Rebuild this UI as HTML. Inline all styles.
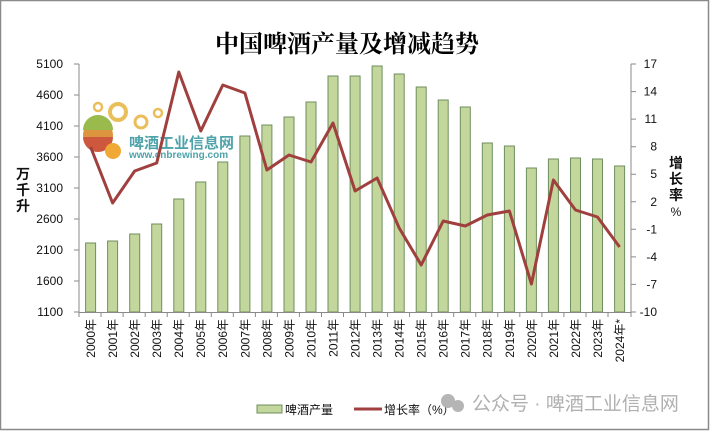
<!DOCTYPE html>
<html><head><meta charset="utf-8"><style>
html,body{margin:0;padding:0;background:#fff;}
svg{display:block;}
text{font-family:"Liberation Sans","Noto Sans CJK SC",sans-serif;}
</style></head><body>
<svg width="710" height="431" viewBox="0 0 710 431" xmlns="http://www.w3.org/2000/svg">
<rect x="0.5" y="0.5" width="708" height="429" fill="#fff" stroke="#8a8a8a" stroke-width="1.5"/>
<text x="347" y="52" text-anchor="middle" font-size="24" font-weight="bold" style="font-family:'Liberation Serif','Noto Serif CJK SC',serif">中国啤酒产量及增减趋势</text>

<g opacity="0.9">
<circle cx="98" cy="107" r="4" fill="none" stroke="#e8b84a" stroke-width="2.5"/>
<circle cx="118" cy="112" r="8" fill="none" stroke="#e8b84a" stroke-width="4"/>
<circle cx="141" cy="122" r="6" fill="none" stroke="#e8b84a" stroke-width="3"/>
<circle cx="158" cy="113" r="4" fill="none" stroke="#e8b84a" stroke-width="2.5"/>
<circle cx="98" cy="135" r="15" fill="#d98a2a"/>
<path d="M83,130 A15,15 0 0 1 113,130 Z" fill="#8fb33a"/>
<path d="M83,137 L113,137 A15,15 0 0 1 83,137Z" fill="#c8462a"/>
<circle cx="113" cy="151" r="8" fill="#f0a020"/>
<text x="129" y="148" font-size="15" font-weight="bold" fill="#3a9aa0">啤酒工业信息网</text>
<text x="129" y="158" font-size="10" font-weight="bold" fill="#3a9aa0">www.cnbrewing.com</text>
</g>

<g fill="#c3d69b" stroke="#6f8f5f" stroke-width="1">
<rect x="85.6" y="243" width="10" height="69"/>
<rect x="107.6" y="241" width="10" height="71"/>
<rect x="129.7" y="234" width="10" height="78"/>
<rect x="151.7" y="224" width="10" height="88"/>
<rect x="173.8" y="199" width="10" height="113"/>
<rect x="195.8" y="182" width="10" height="130"/>
<rect x="217.8" y="162" width="10" height="150"/>
<rect x="239.9" y="136" width="10" height="176"/>
<rect x="261.9" y="125" width="10" height="187"/>
<rect x="284" y="117" width="10" height="195"/>
<rect x="306" y="102" width="10" height="210"/>
<rect x="328" y="76" width="10" height="236"/>
<rect x="350.1" y="76" width="10" height="236"/>
<rect x="372.1" y="66" width="10" height="246"/>
<rect x="394.2" y="74" width="10" height="238"/>
<rect x="416.2" y="87" width="10" height="225"/>
<rect x="438.2" y="100" width="10" height="212"/>
<rect x="460.3" y="107" width="10" height="205"/>
<rect x="482.3" y="143" width="10" height="169"/>
<rect x="504.4" y="146" width="10" height="166"/>
<rect x="526.4" y="168" width="10" height="144"/>
<rect x="548.4" y="159" width="10" height="153"/>
<rect x="570.5" y="158" width="10" height="154"/>
<rect x="592.5" y="159" width="10" height="153"/>
<rect x="614.6" y="166" width="10" height="146"/>
</g>

<g stroke="#8a8a8a" stroke-width="1" fill="none">
<line x1="79" y1="64" x2="79" y2="312"/>
<line x1="631" y1="64" x2="631" y2="312"/>
<line x1="79" y1="312.5" x2="631" y2="312.5"/>
<path d="M74,64H79M74,95H79M74,126H79M74,157H79M74,188H79M74,219H79M74,250H79M74,281H79M74,312H79"/>
<path d="M631,64H636M631,91.6H636M631,119.1H636M631,146.7H636M631,174.2H636M631,201.8H636M631,229.3H636M631,256.9H636M631,284.4H636M631,312H636"/>
<path d="M79,312V317M101,312V317M123.1,312V317M145.2,312V317M167.2,312V317M189.2,312V317M211.3,312V317M233.3,312V317M255.4,312V317M277.4,312V317M299.4,312V317M321.5,312V317M343.5,312V317M365.6,312V317M387.6,312V317M409.6,312V317M431.7,312V317M453.7,312V317M475.8,312V317M497.8,312V317M519.8,312V317M541.9,312V317M563.9,312V317M586,312V317M608,312V317M631,312V317"/>
</g>

<g font-size="12" text-anchor="end" fill="#111">
<text x="63" y="68">5100</text><text x="63" y="99">4600</text><text x="63" y="130">4100</text>
<text x="63" y="161">3600</text><text x="63" y="192">3100</text><text x="63" y="223">2600</text>
<text x="63" y="254">2100</text><text x="63" y="285">1600</text><text x="63" y="316">1100</text>
</g>
<g font-size="12" text-anchor="end" fill="#111">
<text x="657" y="68">17</text><text x="657" y="95.6">14</text><text x="657" y="123.1">11</text>
<text x="657" y="150.7">8</text><text x="657" y="178.2">5</text><text x="657" y="205.8">2</text>
<text x="657" y="233.3">-1</text><text x="657" y="260.9">-4</text><text x="657" y="288.4">-7</text>
<text x="657" y="316">-10</text>
</g>
<g font-size="14" font-weight="bold" text-anchor="middle" fill="#111">
<text x="23" y="179">万</text><text x="23" y="195">千</text><text x="23" y="211">升</text>
<text x="676" y="168">增</text><text x="676" y="184">长</text><text x="676" y="200">率</text>
</g>
<text x="676" y="216" font-size="12" text-anchor="middle" fill="#111">%</text>

<polyline fill="none" stroke="#a0403e" stroke-width="3" stroke-linejoin="round" points="90.6,147 112.6,203 134.7,171 156.7,163 178.8,72 200.8,131 222.8,85 244.9,93 266.9,170 289,155 311,162 333,123 355.1,191 377.1,178 399.2,228 421.2,265 443.2,221 465.3,226 487.3,215 509.4,211 531.4,284 553.4,180 575.5,210 597.5,217 619.6,247"/>

<g font-size="12" fill="#111" text-anchor="end">
<text transform="translate(95,319) rotate(-90)">2000年</text>
<text transform="translate(117,319) rotate(-90)">2001年</text>
<text transform="translate(139.1,319) rotate(-90)">2002年</text>
<text transform="translate(161.1,319) rotate(-90)">2003年</text>
<text transform="translate(183.2,319) rotate(-90)">2004年</text>
<text transform="translate(205.2,319) rotate(-90)">2005年</text>
<text transform="translate(227.2,319) rotate(-90)">2006年</text>
<text transform="translate(249.3,319) rotate(-90)">2007年</text>
<text transform="translate(271.3,319) rotate(-90)">2008年</text>
<text transform="translate(293.4,319) rotate(-90)">2009年</text>
<text transform="translate(315.4,319) rotate(-90)">2010年</text>
<text transform="translate(337.4,319) rotate(-90)">2011年</text>
<text transform="translate(359.5,319) rotate(-90)">2012年</text>
<text transform="translate(381.5,319) rotate(-90)">2013年</text>
<text transform="translate(403.6,319) rotate(-90)">2014年</text>
<text transform="translate(425.6,319) rotate(-90)">2015年</text>
<text transform="translate(447.6,319) rotate(-90)">2016年</text>
<text transform="translate(469.7,319) rotate(-90)">2017年</text>
<text transform="translate(491.7,319) rotate(-90)">2018年</text>
<text transform="translate(513.8,319) rotate(-90)">2019年</text>
<text transform="translate(535.8,319) rotate(-90)">2020年</text>
<text transform="translate(557.8,319) rotate(-90)">2021年</text>
<text transform="translate(579.9,319) rotate(-90)">2022年</text>
<text transform="translate(601.9,319) rotate(-90)">2023年</text>
<text transform="translate(624,319) rotate(-90)">2024年*</text>
</g>

<rect x="257" y="405" width="25" height="8" fill="#c3d69b" stroke="#6f8f5f"/>
<text x="285" y="414" font-size="12" fill="#111">啤酒产量</text>
<line x1="354" y1="409" x2="382" y2="409" stroke="#a0403e" stroke-width="3"/>
<text x="384" y="414" font-size="12" fill="#111">增长率（%）</text>

<g fill="#b5b5b5">
<circle cx="448" cy="401" r="7"/><circle cx="458" cy="406" r="6"/>
</g>
<text x="472" y="410" font-size="19" fill="#b0b0b0">公众号 · 啤酒工业信息网</text>
</svg>
</body></html>
